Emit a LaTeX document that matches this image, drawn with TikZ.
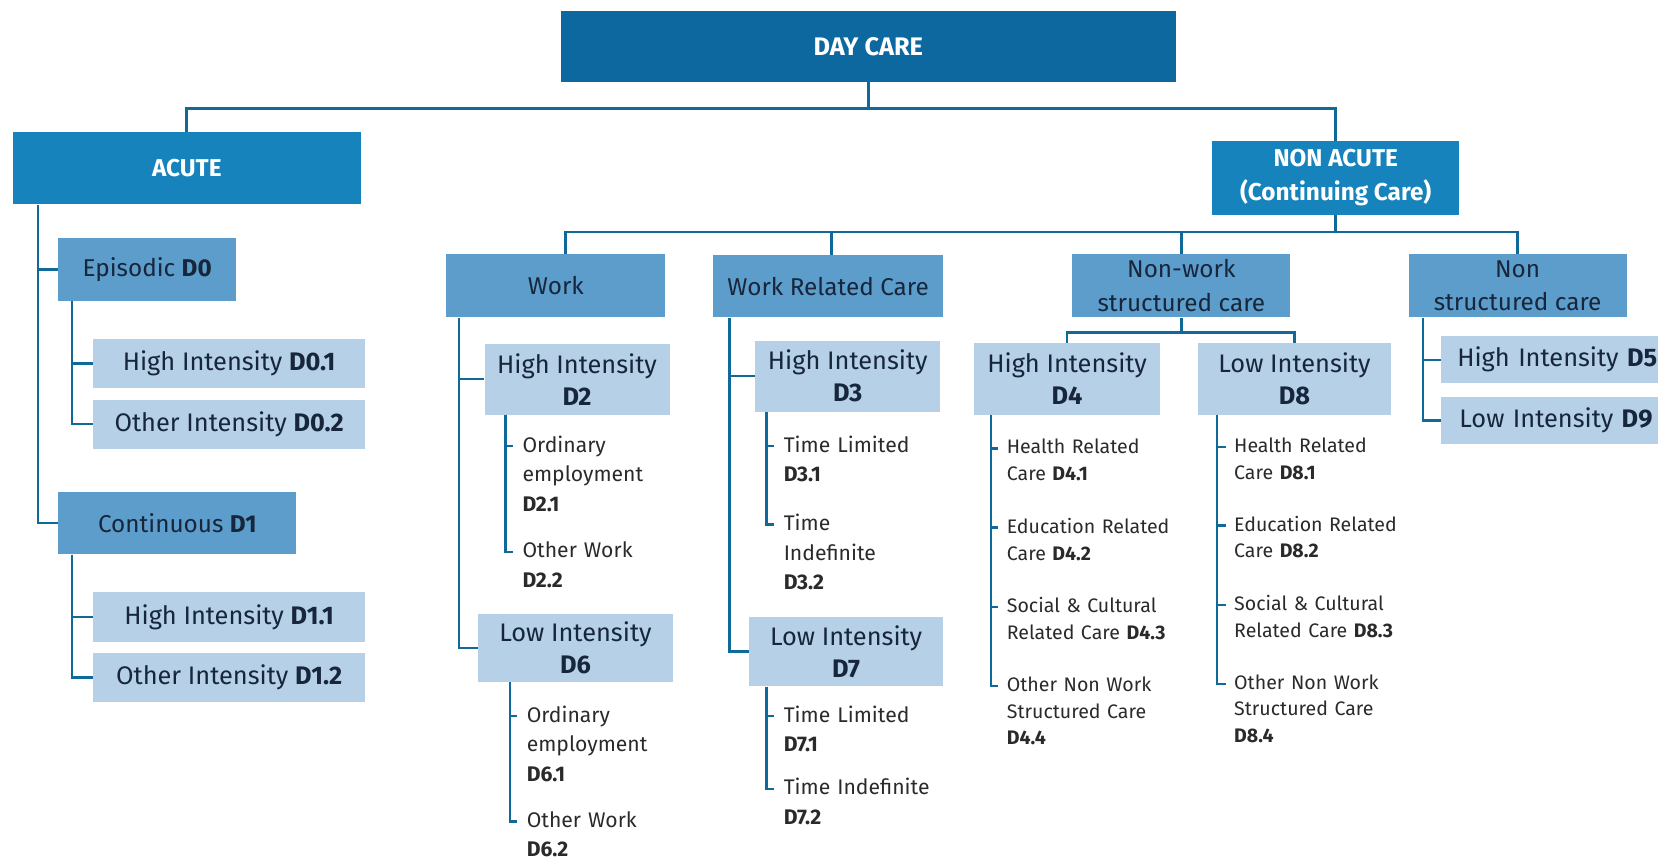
\documentclass[tikz,border=0pt]{standalone}
\usepackage{fontspec}
\setmainfont{Fira Sans}
\definecolor{darkblue}{HTML}{0D68A0}
\definecolor{catblue}{HTML}{1683BD}
\definecolor{medblue}{HTML}{5C9DCB}
\definecolor{lightblue}{HTML}{B5D0E7}
\definecolor{linecol}{HTML}{0F6A9A}
\definecolor{ink}{HTML}{17263A}
\definecolor{leafgray}{HTML}{2A2A2A}
\begin{document}
\begin{tikzpicture}[x=1pt,y=-1pt,
  box/.style={anchor=north west, inner sep=0pt, align=center},
  topbox/.style={box, fill=darkblue, text=white, font=\fontsize{24}{30}\selectfont\bfseries},
  catbox/.style={box, fill=catblue, text=white, font=\fontsize{23}{32}\selectfont\bfseries},
  medbox/.style={box, fill=medblue, text=ink, font=\fontsize{23}{32}\selectfont},
  lightbox/.style={box, fill=lightblue, text=ink, font=\fontsize{24}{30}\selectfont},
  leaf/.style={anchor=north west, inner sep=0pt, align=left, text width=170pt, text=leafgray, font=\fontsize{20}{28}\selectfont},
  leafs/.style={leaf, font=\fontsize{18.5}{25}\selectfont},
  conn/.style={draw=linecol, line width=2.6pt},
  conns/.style={draw=linecol, line width=2.2pt},
  ]
\useasboundingbox (0,0) rectangle (1568,816);
\clip (0,0) rectangle (1568,816);

% top levels
\node[topbox, minimum width=582pt, minimum height=67pt] (day) at (530,10) {DAY CARE};
\node[catbox, minimum width=329pt, minimum height=68pt] (acute) at (12,125) {ACUTE};
\node[catbox, minimum width=234pt, minimum height=70pt] (nonacute) at (1146,133) {NON ACUTE\\(Continuing Care)};
\draw[conn] (day.south) -- ++(0,25) coordinate (daybar);
\draw[conn] (acute.north) |- (daybar) -| (nonacute.north);

% second level (non acute)
\node[medbox, minimum width=207pt, minimum height=60pt] (work) at (422,240) {Work};
\node[medbox, minimum width=218pt, minimum height=59pt] (wrc) at (674,241) {Work Related Care};
\node[medbox, minimum width=206pt, minimum height=60pt] (nws) at (1014,240) {Non-work\\structured care};
\node[medbox, minimum width=206pt, minimum height=60pt] (ns) at (1332,240) {Non\\structured care};
\draw[conn] (nonacute.south) -- ++(0,16) coordinate (nabar);
\draw[conn] ([xshift=9pt]work.north) |- (nabar) -| (ns.north);
\draw[conn] ([xshift=3pt]wrc.north) -- ([xshift=3pt]wrc.north |- nabar);
\draw[conn] (nws.north) -- (nws.north |- nabar);

% acute subtree
\node[medbox, minimum width=168pt, minimum height=59pt] (epi) at (55,225) {Episodic \textbf{D0}};
\node[medbox, minimum width=225pt, minimum height=59pt] (cont) at (55,465) {Continuous \textbf{D1}};
\draw[conn] ([xshift=24pt]acute.south west) |- (epi.west);
\draw[conn] ([xshift=24pt]acute.south west) |- (cont.west);

\node[lightbox, minimum width=257pt, minimum height=47pt] (d01) at (88,320) {High Intensity \textbf{D0.1}};
\node[lightbox, minimum width=257pt, minimum height=46pt] (d02) at (88,378) {Other Intensity \textbf{D0.2}};
\node[lightbox, minimum width=257pt, minimum height=47pt] (d11) at (88,560) {High Intensity \textbf{D1.1}};
\node[lightbox, minimum width=257pt, minimum height=47pt] (d12) at (88,617) {Other Intensity \textbf{D1.2}};
\draw[conns] ([xshift=13pt]epi.south west) |- (d01.west);
\draw[conns] ([xshift=13pt]epi.south west) |- (d02.west);
\draw[conns] ([xshift=13pt]cont.south west) |- (d11.west);
\draw[conns] ([xshift=13pt]cont.south west) |- (d12.west);

% work subtree
\node[lightbox, minimum width=175pt, minimum height=67pt] (d2) at (458,325) {High Intensity\\\textbf{D2}};
\node[lightbox, minimum width=184pt, minimum height=65pt] (d6) at (452,580) {Low Intensity\\\textbf{D6}};
\draw[conns] ([xshift=12pt]work.south west) |- (d2.west);
\draw[conns] ([xshift=12pt]work.south west) |- (d6.west);

\node[leaf] (d21) at (494,412) {Ordinary\\employment\\\textbf{D2.1}};
\node[leaf] (d22) at (494,512) {Other Work\\\textbf{D2.2}};
\draw[conns] ([xshift=20pt]d2.south west) |- ([xshift=-9pt,yshift=-10pt]d22.north west);
\draw[conns] ([xshift=-16pt,yshift=-10pt]d21.north west) -- ([xshift=-9pt,yshift=-10pt]d21.north west);

\node[leaf] (d61) at (498,667) {Ordinary\\employment\\\textbf{D6.1}};
\node[leaf] (d62) at (498,767) {Other Work\\\textbf{D6.2}};
\draw[conns] ([xshift=30pt]d6.south west) |- ([xshift=-9pt,yshift=-10pt]d62.north west);
\draw[conns] ([xshift=-16pt,yshift=-10pt]d61.north west) -- ([xshift=-9pt,yshift=-10pt]d61.north west);

% work related care subtree
\node[lightbox, minimum width=175pt, minimum height=67pt] (d3) at (714,322) {High Intensity\\\textbf{D3}};
\node[lightbox, minimum width=184pt, minimum height=66pt] (d7) at (708,583) {Low Intensity\\\textbf{D7}};
\draw[conns] ([xshift=16pt]wrc.south west) |- (d3.west);
\draw[conns] ([xshift=16pt]wrc.south west) |- (d7.west);

\node[leaf] (d31) at (741,412) {Time Limited\\\textbf{D3.1}};
\node[leaf] (d32) at (741,486) {Time\\Indefinite\\\textbf{D3.2}};
\draw[conns] ([xshift=11pt]d3.south west) |- ([xshift=-9pt,yshift=-10pt]d32.north west);
\draw[conns] ([xshift=-16pt,yshift=-10pt]d31.north west) -- ([xshift=-9pt,yshift=-10pt]d31.north west);

\node[leaf] (d71) at (741,667) {Time Limited\\\textbf{D7.1}};
\node[leaf] (d72) at (741,736) {Time Indefinite\\\textbf{D7.2}};
\draw[conns] ([xshift=17pt]d7.south west) |- ([xshift=-9pt,yshift=-10pt]d72.north west);
\draw[conns] ([xshift=-16pt,yshift=-10pt]d71.north west) -- ([xshift=-9pt,yshift=-10pt]d71.north west);

% non-work structured care subtree
\node[lightbox, minimum width=176pt, minimum height=68pt] (d4) at (921,324) {High Intensity\\\textbf{D4}};
\node[lightbox, minimum width=182pt, minimum height=68pt] (d8) at (1133,324) {Low Intensity\\\textbf{D8}};
\draw[conns] (nws.south) -- ++(0,14) coordinate (nwbar);
\draw[conns] (d4.north) |- (nwbar) -| (d8.north);

\node[leafs] (d41) at (952,415) {Health Related\\Care \textbf{D4.1}};
\node[leafs] (d42) at (952,490) {Education Related\\Care \textbf{D4.2}};
\node[leafs] (d43) at (952,565) {Social \& Cultural\\Related Care \textbf{D4.3}};
\node[leafs] (d44) at (952,640) {Other Non Work\\Structured Care\\\textbf{D4.4}};
\draw[conns] ([xshift=16pt]d4.south west) |- ([xshift=-8pt,yshift=-9pt]d44.north west);
\foreach \n in {d41,d42,d43}
  \draw[conns] ([xshift=-15pt,yshift=-9pt]\n.north west) -- ([xshift=-8pt,yshift=-9pt]\n.north west);

\node[leafs] (d81) at (1167,414) {Health Related\\Care \textbf{D8.1}};
\node[leafs] (d82) at (1167,488) {Education Related\\Care \textbf{D8.2}};
\node[leafs] (d83) at (1167,563) {Social \& Cultural\\Related Care \textbf{D8.3}};
\node[leafs] (d84) at (1167,638) {Other Non Work\\Structured Care\\\textbf{D8.4}};
\draw[conns] ([xshift=18pt]d8.south west) |- ([xshift=-8pt,yshift=-9pt]d84.north west);
\foreach \n in {d81,d82,d83}
  \draw[conns] ([xshift=-16pt,yshift=-9pt]\n.north west) -- ([xshift=-8pt,yshift=-9pt]\n.north west);

% non structured care subtree
\node[lightbox, text width=230pt, align=left, inner xsep=15pt, minimum height=44pt] (d5) at (1363,318) {High Intensity \textbf{D5}};
\node[lightbox, text width=230pt, align=left, inner xsep=17pt, minimum height=45pt] (d9) at (1363,375) {Low Intensity \textbf{D9}};
\draw[conns] ([xshift=14pt]ns.south west) |- (d5.west);
\draw[conns] ([xshift=14pt]ns.south west) |- (d9.west);
\end{tikzpicture}
\end{document}
